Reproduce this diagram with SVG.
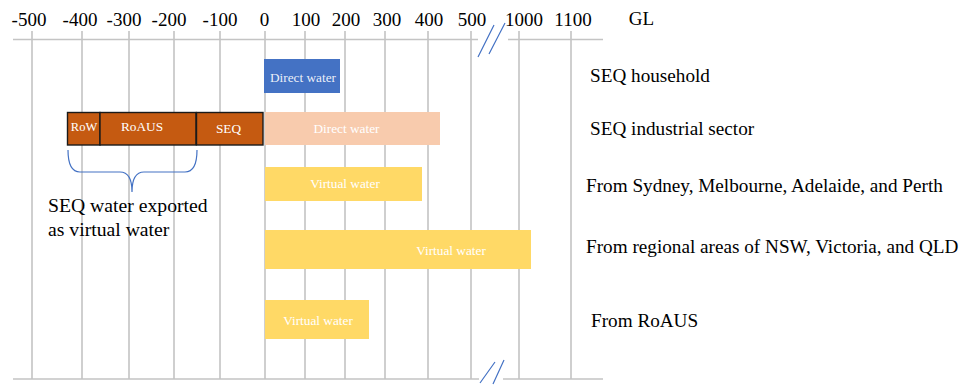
<svg xmlns="http://www.w3.org/2000/svg" width="975" height="385" viewBox="0 0 975 385">
  <style>
    text { font-family: "Liberation Serif", "Times New Roman", serif; }
    .tick { font-size: 19px; fill: #000; text-anchor: middle; }
    .lbl { font-size: 19.2px; fill: #000; }
    .bar-t { font-size: 13.3px; fill: #fff; text-anchor: middle; }
    .grid { stroke: #c4c4c4; stroke-width: 1.6; fill: none; }
    .brk { stroke: #4472c4; stroke-width: 1.2; fill: none; }
  </style>
  <rect width="975" height="385" fill="#fff"/>

  <!-- axis grid -->
  <g id="grid">
    <path class="grid" d="M32,31V379 M82,31V379 M129,31V379 M174,31V379 M220,31V379 M265,31V379 M305,31V379 M345,31V379 M385,31V379 M428,31V379 M471,31V379 M519,31V379 M571,31V379"/>
    <path class="grid" d="M13,39.5H478 M508,39.5H603 M13,379H479 M503,379H603"/>
    <path class="brk" d="M478,57L494,25 M489,54L505,23 M480,383L495,362 M493,384L504,360"/>
  </g>

  <g id="ticks">
    <text class="tick" x="29" y="26">-500</text>
    <text class="tick" x="80" y="26">-400</text>
    <text class="tick" x="124" y="26">-300</text>
    <text class="tick" x="169" y="26">-200</text>
    <text class="tick" x="220" y="26">-100</text>
    <text class="tick" x="264.5" y="26">0</text>
    <text class="tick" x="306" y="26">100</text>
    <text class="tick" x="346" y="26">200</text>
    <text class="tick" x="387" y="26">300</text>
    <text class="tick" x="429" y="26">400</text>
    <text class="tick" x="472" y="26">500</text>
    <text class="tick" x="524" y="26">1000</text>
    <text class="tick" x="573" y="26">1100</text>
    <text class="tick" x="641.5" y="25">GL</text>
  </g>

  <!-- bars -->
  <g id="household-direct">
    <rect x="264" y="59" width="76" height="34" fill="#4472c4"/>
    <text class="bar-t" x="303" y="81.5" fill-opacity="0.9">Direct water</text>
  </g>
  <g id="industry-direct">
    <rect x="265" y="112" width="175" height="33" fill="#f8cbad"/>
    <text class="bar-t" x="346.5" y="132.5">Direct water</text>
  </g>
  <g id="export-row">
    <rect x="67.5" y="112.5" width="32.5" height="32.5" fill="#c55a11" stroke="#1a1a1a" stroke-width="1.4"/>
    <text class="bar-t" x="84" y="131" style="font-size:12.5px">RoW</text>
  </g>
  <g id="export-roaus">
    <rect x="100" y="112.5" width="96" height="32.5" fill="#c55a11" stroke="#1a1a1a" stroke-width="1.4"/>
    <text class="bar-t" x="142" y="131">RoAUS</text>
  </g>
  <g id="export-seq">
    <rect x="196.5" y="112.5" width="66.5" height="32.5" fill="#c55a11" stroke="#1a1a1a" stroke-width="1.4"/>
    <text class="bar-t" x="228.5" y="133">SEQ</text>
  </g>
  <g id="virtual-cities">
    <rect x="265" y="167" width="157" height="34" fill="#ffd966"/>
    <text class="bar-t" x="345" y="188">Virtual water</text>
  </g>
  <g id="virtual-regional">
    <rect x="265" y="230" width="266" height="39" fill="#ffd966"/>
    <text class="bar-t" x="451" y="255">Virtual water</text>
  </g>
  <g id="virtual-roaus">
    <rect x="265" y="300" width="104" height="39" fill="#ffd966"/>
    <text class="bar-t" x="318" y="325">Virtual water</text>
  </g>

  <!-- brace under the exported segments -->
  <g id="brace">
    <path d="M68,150 Q68,172 80,172 L120,172 Q132,172 132,192 Q132,172 144,172 L185,172 Q197,172 197,150" fill="none" stroke="#4472c4" stroke-width="1.2"/>
    <text x="48" y="212" style="font-size:19.7px">SEQ water exported</text>
    <text x="48" y="236" style="font-size:19.7px">as virtual water</text>
  </g>

  <g id="labels">
    <text class="lbl" x="590" y="82">SEQ household</text>
    <text class="lbl" x="590" y="135">SEQ industrial sector</text>
    <text class="lbl" x="586" y="192">From Sydney, Melbourne, Adelaide, and Perth</text>
    <text class="lbl" x="586" y="253">From regional areas of NSW, Victoria, and QLD</text>
    <text class="lbl" x="591" y="327">From RoAUS</text>
  </g>
</svg>
